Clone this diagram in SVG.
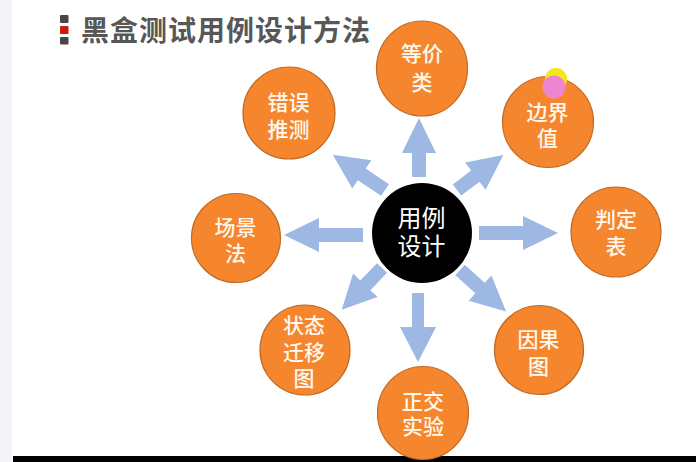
<svg xmlns="http://www.w3.org/2000/svg" width="696" height="462" viewBox="0 0 696 462">
<style>
.bg{fill:#ffffff}
.strip{fill:#f4f4f8}
.bar{fill:#000000}
.sq{fill:#474747}
.sqr{fill:#cc1a0e}
.title{font-family:"Noto Sans CJK SC","Liberation Sans",sans-serif;font-size:28px;font-weight:700;fill:#575757;letter-spacing:1px}
.node{fill:#f5862d;stroke:#bf6a24;stroke-width:1.2}
.hub{fill:#000000}
.lbl{font-family:"Liberation Sans","Noto Sans CJK SC",sans-serif;font-size:21px;font-weight:500;fill:#fff8ef;text-anchor:middle}
.hlbl{font-family:"Liberation Sans","Noto Sans CJK SC",sans-serif;font-size:24px;font-weight:400;fill:#ffffff;text-anchor:middle}
.arr{fill:#9db8e2}
</style>
<rect class="bg" x="0" y="0" width="696" height="462"/>
<rect class="strip" x="0" y="0" width="12" height="462"/>
<rect class="bar" x="13" y="456" width="683" height="6"/>

<g id="title">
  <rect class="sq" x="60" y="15" width="8.5" height="8" rx="1"/>
  <rect class="sqr" x="60" y="26" width="8.5" height="8" rx="1"/>
  <rect class="sq" x="60" y="37" width="8.5" height="7.5" rx="1"/>
  <text class="title" x="81" y="41">黑盒测试用例设计方法</text>
</g>

<g id="connectors">
  <polygon class="arr" transform="translate(479,233)" points="0,-7 44,-7 44,-17 79,0 44,17 44,7 0,7"/>
  <polygon class="arr" transform="translate(363,235) rotate(180)" points="0,-7 44,-7 44,-17 79,0 44,17 44,7 0,7"/>
  <polygon class="arr" transform="translate(419,177) rotate(-90)" points="0,-7 24,-7 24,-17 59,0 24,17 24,7 0,7"/>
  <polygon class="arr" transform="translate(418,293) rotate(90)" points="0,-6 34,-6 34,-18 69,0 34,18 34,6 0,6"/>
  <polygon class="arr" transform="translate(385,190) rotate(214)" points="0,-7 28,-7 28,-17 63,0 28,17 28,7 0,7"/>
  <polygon class="arr" transform="translate(457,190) rotate(-37)" points="0,-7 23,-7 23,-17 58,0 23,17 23,7 0,7"/>
  <polygon class="arr" transform="translate(382,268) rotate(134)" points="0,-7 24,-7 24,-17 58,0 24,17 24,7 0,7"/>
  <polygon class="arr" transform="translate(460,270) rotate(42)" points="0,-7 27,-7 27,-17 62,0 27,17 27,7 0,7"/>
</g>

<g id="hub">
  <circle class="hub" cx="422" cy="233" r="50"/>
  <text class="hlbl" x="421.5" y="227">用例</text>
  <text class="hlbl" x="421.5" y="255">设计</text>
</g>

<g id="n-dengjialei">
  <ellipse class="node" cx="422" cy="68.5" rx="45.5" ry="47.5"/>
  <text class="lbl" x="422" y="61">等价</text>
  <text class="lbl" x="422" y="90">类</text>
</g>

<g id="n-bianjiezhi">
  <circle class="node" cx="548" cy="122" r="45.5"/>
  <text class="lbl" x="547.5" y="120">边界</text>
  <text class="lbl" x="547.5" y="146">值</text>
</g>

<g id="cursor">
  <circle cx="556" cy="79" r="11" fill="#f3e61a"/>
  <circle cx="554" cy="87" r="11.5" fill="#ee86cf"/>
</g>

<g id="n-pandingbiao">
  <circle class="node" cx="616" cy="232" r="45"/>
  <text class="lbl" x="616" y="227">判定</text>
  <text class="lbl" x="616" y="254">表</text>
</g>

<g id="n-yinguotu">
  <circle class="node" cx="539" cy="350" r="44.5"/>
  <text class="lbl" x="538.5" y="347">因果</text>
  <text class="lbl" x="538.5" y="374">图</text>
</g>

<g id="n-zhengjiaoshiyan">
  <ellipse class="node" cx="423" cy="413" rx="45.5" ry="46.5"/>
  <text class="lbl" x="423" y="408.5">正交</text>
  <text class="lbl" x="423" y="434">实验</text>
</g>

<g id="n-zhuangtaiqianyitu">
  <circle class="node" cx="305" cy="350" r="45"/>
  <text class="lbl" x="304" y="333">状态</text>
  <text class="lbl" x="304" y="360">迁移</text>
  <text class="lbl" x="304" y="386">图</text>
</g>

<g id="n-changjingfa">
  <circle class="node" cx="236" cy="238" r="44.5"/>
  <text class="lbl" x="235.5" y="235">场景</text>
  <text class="lbl" x="235.5" y="261">法</text>
</g>

<g id="n-cuowutuice">
  <circle class="node" cx="289" cy="113" r="46"/>
  <text class="lbl" x="288.5" y="110">错误</text>
  <text class="lbl" x="288.5" y="137">推测</text>
</g>
</svg>
